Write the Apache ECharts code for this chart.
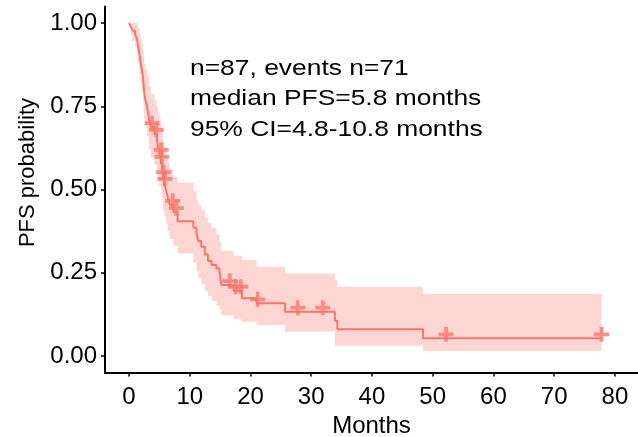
<!DOCTYPE html>
<html lang="en">
<head>
    <meta charset="utf-8">
    <title>PFS</title>
    <script src="https://cdn.jsdelivr.net/npm/echarts@6/dist/echarts.min.js"></script>
    <style>
        html, body { margin: 0; padding: 0; background: #fff; }
        #chart { width: 638px; height: 437px; }
    </style>
</head>
<body>
<div id="chart"></div>
<script>
    // KM step points: time (months), survival, upper / lower 95% CI
    var kmTime  = [0, 0.3, 0.6, 1.0, 1.3, 1.5, 1.7, 1.9, 2.1, 2.3, 2.4, 2.5, 2.7, 3.0, 3.3, 3.6, 4.2, 4.6, 4.8, 5.0,
                   5.3, 5.5, 5.6, 5.8, 6.1, 6.4, 6.7, 7.3, 8.0, 10.6, 11.1, 11.4, 11.9, 12.5, 13.0, 13.6, 14.4, 14.9,
                   15.2, 17.2, 18.6, 21.0, 25.7, 33.9, 34.3, 48.4, 77.8];
    var kmSurv  = [1.000, 0.989, 0.977, 0.966, 0.954, 0.931, 0.908, 0.885, 0.862, 0.839, 0.816, 0.793, 0.770, 0.747,
                   0.712, 0.687, 0.667, 0.647, 0.627, 0.607, 0.586, 0.562, 0.540, 0.520, 0.498, 0.476, 0.454, 0.432,
                   0.405, 0.385, 0.368, 0.345, 0.328, 0.305, 0.285, 0.273, 0.263, 0.253, 0.213, 0.196, 0.173, 0.158,
                   0.133, 0.106, 0.080, 0.053, 0.053];
    var kmUpper = [1.000, 1.000, 1.000, 1.000, 0.999, 0.985, 0.970, 0.953, 0.936, 0.918, 0.899, 0.880, 0.860, 0.840,
                   0.810, 0.787, 0.768, 0.749, 0.730, 0.710, 0.690, 0.668, 0.646, 0.626, 0.604, 0.582, 0.560, 0.538,
                   0.520, 0.495, 0.470, 0.455, 0.438, 0.415, 0.400, 0.385, 0.365, 0.343, 0.315, 0.300, 0.288, 0.268,
                   0.248, 0.228, 0.208, 0.186, 0.186];
    var kmLower = [1.000, 0.966, 0.946, 0.928, 0.910, 0.879, 0.849, 0.820, 0.792, 0.765, 0.738, 0.712, 0.686, 0.661,
                   0.620, 0.595, 0.574, 0.552, 0.531, 0.510, 0.489, 0.464, 0.441, 0.420, 0.397, 0.374, 0.352, 0.330,
                   0.308, 0.280, 0.255, 0.235, 0.215, 0.195, 0.180, 0.165, 0.150, 0.140, 0.122, 0.110, 0.103, 0.093,
                   0.073, 0.031, 0.031, 0.015, 0.015];

    // censored observations
    var censorTime = [3.8, 4.5, 5.3, 5.4, 5.7, 5.9, 7.2, 7.8, 16.6, 17.6, 18.4, 21.2, 27.8, 31.9, 52.2, 77.8];
    var censorSurv = [0.687, 0.667, 0.607, 0.586, 0.540, 0.520, 0.454, 0.432, 0.213, 0.196, 0.196, 0.158, 0.133,
                      0.133, 0.053, 0.053];

    var xTicks = [0, 10, 20, 30, 40, 50, 60, 70, 80];
    var yTicks = [0, 0.25, 0.5, 0.75, 1];
    var noteLines = ['n=87, events n=71', 'median PFS=5.8 months', '95% CI=4.8-10.8 months'];

    var red = '#F8766D';
    var band = 'rgba(248,118,109,0.3)';
    var font = 'Liberation Sans, Arial, sans-serif';

    var chart = echarts.init(document.getElementById('chart'));

    var lineData = kmTime.map(function (t, i) { return [t, kmSurv[i]]; });
    var censorData = censorTime.map(function (t, i) { return [t, censorSurv[i]]; });

    chart.setOption({
        animation: false,
        grid: { left: 105, right: 0, top: 6.4, bottom: 64.4, outerBoundsMode: 'none' },
        xAxis: {
            type: 'value',
            min: -3.95,
            max: 83.8,
            name: 'Months',
            nameLocation: 'middle',
            nameGap: 41,
            nameTextStyle: { color: '#000', fontSize: 24, fontFamily: font },
            axisLine: { onZero: false, lineStyle: { color: '#000', width: 2 } },
            axisTick: { customValues: xTicks, length: 4, lineStyle: { color: '#000', width: 1.5 } },
            axisLabel: { customValues: xTicks, color: '#000', fontSize: 24, fontFamily: font, margin: 13 },
            splitLine: { show: false }
        },
        yAxis: {
            type: 'value',
            min: -0.05,
            max: 1.05,
            name: 'PFS probability',
            nameLocation: 'middle',
            nameRotate: 90,
            nameGap: 66,
            nameTextStyle: { color: '#000', fontSize: 22, fontFamily: font, padding: [0, 0, 0, 34] },
            axisLine: { onZero: false, lineStyle: { color: '#000', width: 2 } },
            axisTick: { customValues: yTicks, length: 4, lineStyle: { color: '#000', width: 1.5 } },
            axisLabel: {
                customValues: yTicks, color: '#000', fontSize: 24, fontFamily: font, margin: 8,
                formatter: function (v) { return v.toFixed(2); }
            },
            splitLine: { show: false }
        },
        graphic: noteLines.map(function (txt, i) {
            return {
                type: 'text',
                x: 190,
                y: 68.5 + i * 30.8,
                scaleX: 1.2,
                style: { text: txt, fill: '#000', font: '22px ' + font, verticalAlign: 'middle' }
            };
        }),
        series: [
            {
                type: 'custom',
                z: 1,
                silent: true,
                data: [[0, 1]],
                renderItem: function (params, api) {
                    var pts = [];
                    var n = kmTime.length;
                    for (var i = 0; i < n; i++) {
                        var t1 = i < n - 1 ? kmTime[i + 1] : kmTime[i];
                        pts.push(api.coord([kmTime[i], kmUpper[i]]));
                        pts.push(api.coord([t1, kmUpper[i]]));
                    }
                    for (var j = n - 1; j >= 0; j--) {
                        var t2 = j < n - 1 ? kmTime[j + 1] : kmTime[j];
                        pts.push(api.coord([t2, kmLower[j]]));
                        pts.push(api.coord([kmTime[j], kmLower[j]]));
                    }
                    return { type: 'polygon', shape: { points: pts }, style: { fill: band } };
                }
            },
            {
                type: 'line',
                z: 2,
                step: 'end',
                data: lineData,
                symbol: 'none',
                lineStyle: { color: red, width: 2 }
            },
            {
                type: 'scatter',
                z: 3,
                data: censorData,
                symbol: 'path://M6,0H10V6H16V10H10V16H6V10H0V6H6Z',
                symbolSize: 15,
                symbolOffset: [0, -4],
                itemStyle: { color: red }
            }
        ]
    });
</script>
</body>
</html>
